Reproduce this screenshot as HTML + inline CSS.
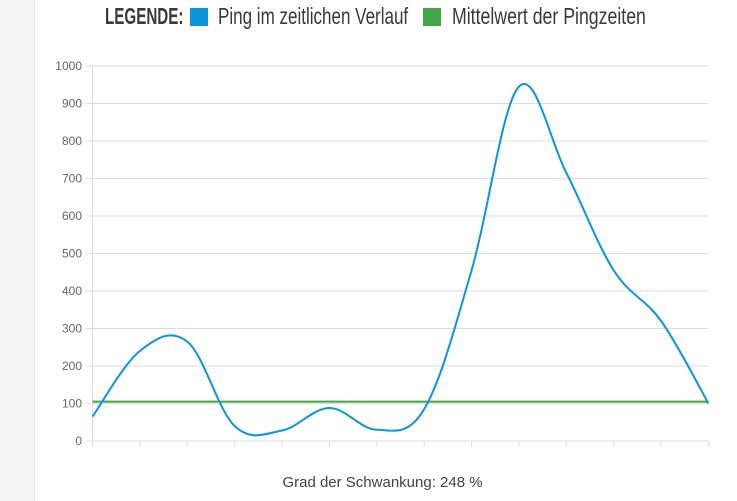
<!DOCTYPE html>
<html><head><meta charset="utf-8"><style>
body{margin:0;width:737px;height:501px;background:#fff;overflow:hidden;font-family:"Liberation Sans",sans-serif;position:relative}
.side{position:absolute;left:0;top:0;width:34px;height:501px;background:#f4f4f4;border-right:1px solid #e4e4e4}
.leg{position:absolute;top:3px;font-family:"Liberation Sans Narrow","Liberation Sans",sans-serif;font-weight:bold;font-size:23px;color:#3a3a3a;white-space:nowrap;transform-origin:left top}
.sq{position:absolute;top:8px;width:18px;height:18px}
.foot{position:absolute;top:474px;left:0;width:765px;text-align:center;font-size:15px;color:#444}
</style></head><body>
<div class="side"></div>
<div class="leg" style="left:105px;transform:scaleX(0.66)">LEGENDE:</div>
<div class="sq" style="left:190px;background:#0b96da"></div>
<div class="leg" style="left:218px;font-weight:normal;transform:scaleX(0.74)">Ping im zeitlichen Verlauf</div>
<div class="sq" style="left:423px;background:#3fa845"></div>
<div class="leg" style="left:452px;font-weight:normal;transform:scaleX(0.77)">Mittelwert der Pingzeiten</div>
<svg id="chart" width="737" height="501" style="position:absolute;left:0;top:0"></svg>
<div class="foot">Grad der Schwankung: 248 %</div>
<script>
const yTicks=[0,100,200,300,400,500,600,700,800,900,1000];
const pingValues=[65,240,265,40,28,88,30,85,455,945,715,455,320,100];
const meanValue=105;
const X0=92.5,X1=708.5,Y0=441,Y1=66;
const sx=i=>X0+(X1-X0)*i/(pingValues.length-1);
const sy=v=>Y0-(Y0-Y1)*v/1000;
const svg=document.getElementById('chart');
const NS='http://www.w3.org/2000/svg';
function mk(t,a){const e=document.createElementNS(NS,t);for(const k in a)e.setAttribute(k,a[k]);svg.appendChild(e);return e;}
yTicks.forEach(v=>{
 const g=mk('line',{x1:86,x2:X1,y1:sy(v),y2:sy(v),stroke:'#dcdcdc','stroke-width':1});
 
 
 const t=mk('text',{x:82,y:sy(v)+4,'text-anchor':'end','font-size':12,fill:'#666','font-family':'Liberation Sans Narrow, Liberation Sans, sans-serif'});
 t.textContent=v;
 
 
});
const ax=mk('line',{x1:X0,x2:X0,y1:Y1,y2:Y0+6,stroke:'#dcdcdc'});


pingValues.forEach((v,i)=>{
 const tk=mk('line',{x1:sx(i),x2:sx(i),y1:Y0,y2:Y0+6,stroke:'#dcdcdc'});
 
 
});
const ml=mk('line',{x1:X0,x2:X1,y1:sy(meanValue),y2:sy(meanValue),stroke:'#3fa845','stroke-width':2});


const p=pingValues.map((v,i)=>[sx(i),sy(v)]);
let d='M'+p[0][0]+','+p[0][1];
const t=0.35;
for(let i=0;i<p.length-1;i++){
 const a=p[i-1]||p[i],b=p[i],c=p[i+1],e=p[i+2]||c;
 d+=` C${b[0]+(c[0]-a[0])*t/2},${b[1]+(c[1]-a[1])*t/2} ${c[0]-(e[0]-b[0])*t/2},${c[1]-(e[1]-b[1])*t/2} ${c[0]},${c[1]}`;
}
const pl=mk('path',{d:d,fill:'none',stroke:'#0b96da','stroke-width':2});


</script>
</body></html>
